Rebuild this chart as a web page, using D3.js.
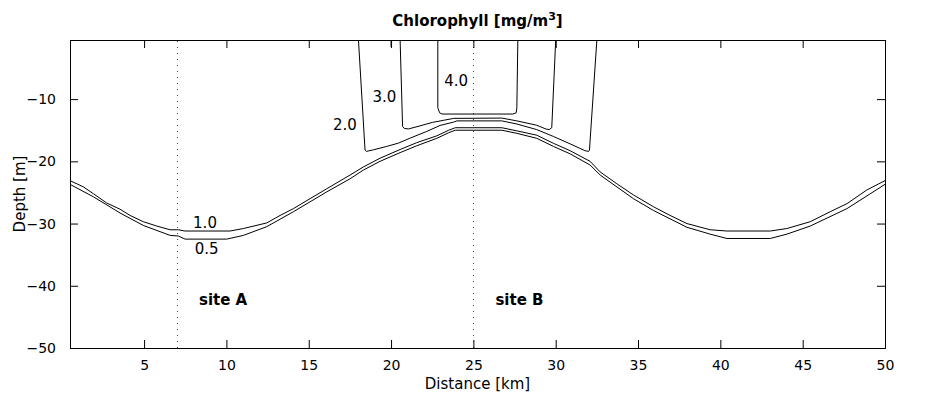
<!DOCTYPE html>
<html>
<head>
<meta charset="utf-8">
<script src="https://cdn.jsdelivr.net/npm/d3@7"></script>
<style>
  body { margin: 0; background: #fff; }
  text { font-family: "DejaVu Sans", sans-serif; fill: #000; }
</style>
</head>
<body>
<div id="chart"></div>
<script>
// contour lines, [distance km, depth m]
var c05 = [[0.5,-23.7],[1.92,-25.7],[3.54,-28.3],[4.95,-30.3],[6.58,-31.9],[7.08,-32.0],[7.49,-32.5],[10.02,-32.5],[11.03,-31.9],[12.45,-30.5],[14.07,-28.1],[16.1,-24.9],[17.51,-22.8],[18.32,-21.4],[19.33,-20.0],[20.55,-18.6],[21.56,-17.5],[22.78,-16.3],[23.5,-15.4],[23.9,-15.0],[26.73,-15.0],[27.64,-15.5],[28.85,-16.3],[29.86,-17.6],[30.88,-18.8],[32.09,-20.6],[32.7,-22.2],[34.72,-26.0],[35.94,-27.9],[37.97,-30.6],[39.38,-31.7],[40.4,-32.4],[43.03,-32.4],[44.04,-31.7],[45.46,-30.4],[47.69,-27.6],[50,-23.7]];
var c10 = [[0.5,-23.1],[1.31,-24.1],[1.92,-25.2],[2.73,-26.7],[3.54,-27.7],[4.15,-28.7],[4.95,-29.7],[5.77,-30.4],[6.58,-31.0],[7.08,-31.0],[7.49,-31.2],[10.22,-31.2],[11.03,-30.8],[12.45,-29.9],[13.26,-28.7],[14.07,-27.6],[15.08,-26.0],[16.1,-24.4],[17.51,-22.2],[18.32,-20.9],[19.33,-19.5],[20.55,-18.1],[21.56,-17.0],[22.78,-15.9],[23.5,-15.0],[23.9,-14.6],[26.73,-14.6],[27.64,-15.1],[28.85,-15.8],[29.86,-17.1],[30.88,-18.3],[32.09,-20.0],[32.7,-21.7],[33.71,-23.6],[34.72,-25.4],[35.94,-27.3],[36.95,-28.7],[37.97,-30.0],[39.38,-31.0],[40.4,-31.2],[43.03,-31.2],[44.04,-30.8],[45.46,-29.7],[46.67,-28.1],[47.69,-26.8],[48.9,-24.6],[50,-23.1]];
var c20 = [[18.02,-0.5],[18.42,-18.2],[18.5,-18.4],[18.93,-18.15],[19.74,-17.6],[20.45,-17.07],[21.16,-16.27],[22.17,-15.19],[22.98,-14.23],[23.79,-13.7],[24.0,-13.5],[26.73,-13.5],[27.64,-14.0],[28.85,-14.9],[29.86,-16.0],[30.88,-17.2],[31.79,-18.3],[32.0,-18.4],[32.05,-18.2],[32.5,-0.5]];
var c30 = [[20.55,-0.5],[20.7,-14.4],[20.8,-14.7],[21.05,-14.8],[21.76,-14.3],[22.5,-13.75],[23.2,-13.4],[23.8,-13.1],[26.73,-13.05],[27.64,-13.5],[28.85,-14.2],[29.4,-14.8],[29.6,-14.9],[29.76,-14.6],[30.0,-0.5]];
var c30b = [[20.0,-0.5],[20.0,-1.6]];
var c40 = [[22.84,-0.5],[22.84,-11.4],[22.95,-12.2],[23.1,-12.4],[27.4,-12.4],[27.6,-12.2],[27.64,-11.4],[27.7,-0.5]];

// contour labels: text, distance, depth
var levelLabels = [["0.5",8.8,-34.9],["1.0",8.7,-30.75],["2.0",17.2,-15.0],["3.0",19.6,-10.5],["4.0",23.95,-7.9]];
var sites = [["site A",7,9.8],["site B",25,27.8]];
var siteDepth = -43.1;

var xTicks = [5,10,15,20,25,30,35,40,45,50];
var yTicks = [-10,-20,-30,-40,-50];

var W = 925, H = 393;
var m = {left: 70, right: 40, top: 40, bottom: 45};

var svg = d3.select("#chart").append("svg")
  .attr("width", W).attr("height", H);

var x = d3.scaleLinear().domain([0.5, 50]).range([m.left, W - m.right]);
var y = d3.scaleLinear().domain([-50, -0.5]).range([H - m.bottom, m.top]);

svg.append("clipPath").attr("id", "clip")
  .append("rect")
  .attr("x", m.left).attr("y", m.top)
  .attr("width", W - m.left - m.right).attr("height", H - m.top - m.bottom);

var plot = svg.append("g").attr("clip-path", "url(#clip)");

// site markers
plot.selectAll("line.site")
  .data(sites)
  .enter()
  .append("line")
  .attr("class", "site")
  .attr("x1", function(d){ return Math.round(x(d[1])) + 0.5; })
  .attr("x2", function(d){ return Math.round(x(d[1])) + 0.5; })
  .attr("y1", y(-50)).attr("y2", y(-0.5))
  .attr("stroke", "#444")
  .attr("stroke-width", 1)
  .attr("stroke-dasharray", "1,5");

var line = d3.line()
  .x(function(d){ return x(d[0]); })
  .y(function(d){ return y(d[1]); });

plot.selectAll("path.contour")
  .data([c05, c10, c20, c30, c30b, c40])
  .enter()
  .append("path")
  .attr("class", "contour")
  .attr("d", line)
  .attr("fill", "none")
  .attr("stroke", "#000")
  .attr("stroke-width", 1);

svg.selectAll("text.lvl")
  .data(levelLabels)
  .enter()
  .append("text")
  .attr("class", "lvl")
  .attr("x", function(d){ return x(d[1]); })
  .attr("y", function(d){ return y(d[2]); })
  .attr("text-anchor", "middle")
  .style("font-size", "15px")
  .text(function(d){ return d[0]; });

svg.selectAll("text.sitelbl")
  .data(sites)
  .enter()
  .append("text")
  .attr("class", "sitelbl")
  .attr("x", function(d){ return x(d[2]); })
  .attr("y", y(siteDepth))
  .attr("text-anchor", "middle")
  .style("font-size", "15px")
  .style("font-weight", "bold")
  .text(function(d){ return d[0]; });

// axes, ticks inward on all four sides
var tk = 8;
var fmt = function(d){ return d < 0 ? "\u2212" + Math.abs(d) : d; };

svg.append("g")
  .attr("transform", "translate(0," + y(-50) + ")")
  .call(d3.axisBottom(x).tickValues(xTicks).tickSize(-tk).tickPadding(tk + 4).tickFormat(fmt));
svg.append("g")
  .attr("transform", "translate(0," + y(-0.5) + ")")
  .call(d3.axisTop(x).tickValues(xTicks).tickSize(-tk).tickFormat(""));
svg.append("g")
  .attr("transform", "translate(" + x(0.5) + ",0)")
  .call(d3.axisLeft(y).tickValues(yTicks).tickSize(-tk).tickPadding(tk + 6).tickFormat(fmt));
svg.append("g")
  .attr("transform", "translate(" + x(50) + ",0)")
  .call(d3.axisRight(y).tickValues(yTicks).tickSize(-tk).tickFormat(""));

svg.selectAll(".domain").attr("stroke", "#000");
svg.selectAll(".tick line").attr("stroke", "#000");
svg.selectAll(".tick text")
  .style("font-family", "DejaVu Sans")
  .style("font-size", "14px")
  .attr("fill", "#000");

// titles
svg.append("text")
  .attr("x", (x(0.5) + x(50)) / 2)
  .attr("y", 26)
  .attr("text-anchor", "middle")
  .style("font-size", "15px")
  .style("font-weight", "bold")
  .html('Chlorophyll [mg/m<tspan dy="-6" style="font-size:11px">3</tspan><tspan dy="6">]</tspan>');

svg.append("text")
  .attr("x", (x(0.5) + x(50)) / 2)
  .attr("y", 389)
  .attr("text-anchor", "middle")
  .style("font-size", "15px")
  .text("Distance [km]");

svg.append("text")
  .attr("transform", "translate(25," + (y(-50) + y(-0.5)) / 2 + ") rotate(-90)")
  .attr("text-anchor", "middle")
  .style("font-size", "15px")
  .text("Depth [m]");
</script>
</body>
</html>
